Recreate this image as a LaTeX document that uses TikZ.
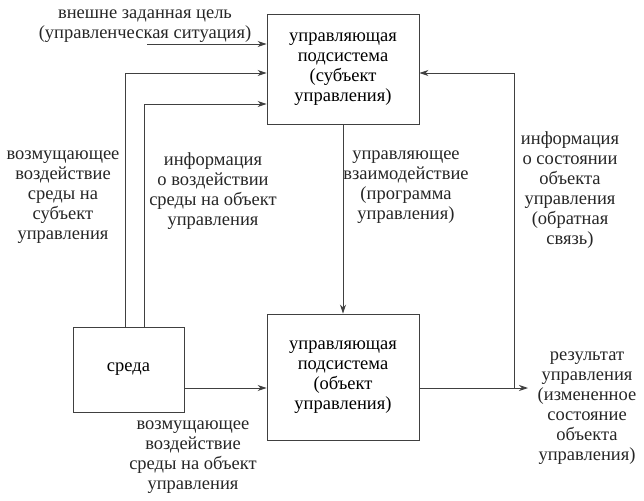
\documentclass[tikz,border=0pt]{standalone}
\usepackage{fontspec}
\setmainfont{Liberation Serif}
\usetikzlibrary{arrows.meta,calc}
\newcommand{\colorLine}{black!75}
\tikzset{
  blk/.style={draw=\colorLine, line width=0.9pt, align=center, inner sep=0pt, font=\fontsize{18.5}{20}\selectfont},
  lbl/.style={align=center, inner sep=0pt, font=\fontsize{18.5}{20}\selectfont, text=black!85},
  arr/.style={draw=\colorLine, line width=0.9pt, -{Stealth[length=9pt,width=6pt]}},
  ln/.style={draw=\colorLine, line width=0.9pt}
}
\begin{document}
\begin{tikzpicture}[x=1pt,y=-1pt]
        \useasboundingbox (0,0) rectangle (644,500);

        \node[blk, minimum width=152pt, minimum height=110pt] (subj) at (343,69) {управляющая\\подсистема\\(субъект\\управления)};
        \node[blk, minimum width=152pt, minimum height=126pt] (obj) at (343,377) {управляющая\\подсистема\\(объект\\управления)};
        \node[blk, minimum width=111pt, minimum height=85pt] (env) at (128.5,369.5) {среда};

        \node[lbl] (goal) at (145,26) {внешне заданная цель\\(управленческая ситуация)};
        \node[lbl] (envsubjlbl) at (63,197) {возмущающее\\воздействие\\среды на\\субъект\\управления};
        \node[lbl] (infolbl) at (213,191) {информация\\о воздействии\\среды на объект\\управления};
        \node[lbl] (proglbl) at (406,187) {управляющее\\взаимодействие\\(программа\\управления)};
        \node[lbl] (fblbl) at (570,190) {информация\\о состоянии\\объекта\\управления\\(обратная\\связь)};
        \node[lbl] (envobjlbl) at (193,457) {возмущающее\\воздействие\\среды на объект\\управления};
        \node[lbl] (reslbl) at (587,408) {результат\\управления\\(измененное\\состояние\\объекта\\управления)};

        \coordinate (goalin) at (147,44);
        \coordinate (envsubj) at (125,327);
        \coordinate (envinfo) at (144,327);
        \coordinate (fb) at (514,388);
        \coordinate (resout) at (528,388);

        \draw[arr] (goalin) -- (goalin -| subj.west);
        \draw[arr] (envsubj) -- (125,73) -- (subj.west |- 0,73);
        \draw[arr] (envinfo) -- (144,104) -- (subj.west |- 0,104);
        \draw[arr] (subj.south) -- (obj.north);
        \draw[arr] (env.east |- 0,388) -- (obj.west |- 0,388);
        \draw[arr] (obj.east |- 0,388) -- (resout);
        \draw[arr] (fb) -- (514,73) -- (subj.east |- 0,73);

\end{tikzpicture}
\end{document}
